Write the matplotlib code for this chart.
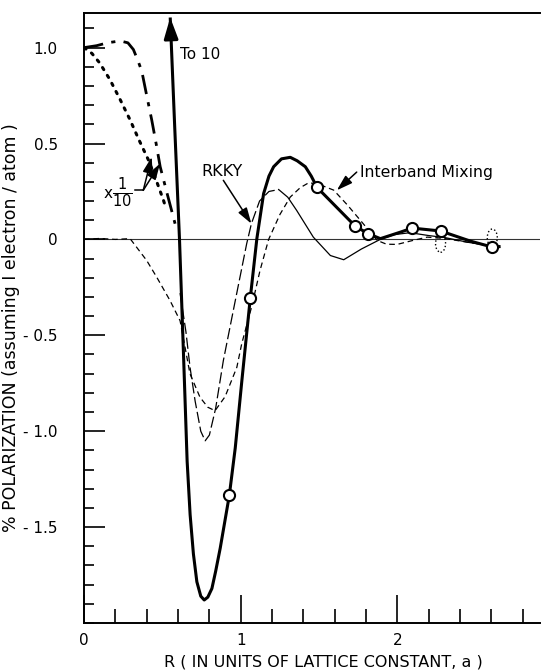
import numpy as np
import matplotlib.pyplot as plt
from matplotlib.patches import Ellipse
from matplotlib.ticker import MultipleLocator, FixedLocator

# thick solid curve (with "To 10" arrow at its upper end)
main_x = [0.550, 0.579, 0.609, 0.634, 0.658, 0.677, 0.698, 0.720, 0.745, 0.767, 0.790,
          0.816, 0.840, 0.869, 0.927, 0.965, 1.007, 1.061, 1.103, 1.146, 1.180, 1.210,
          1.260, 1.316, 1.360, 1.412, 1.450, 1.487, 1.732, 1.813, 1.891, 2.019, 2.094,
          2.275, 2.466, 2.605, 2.658]
main_y = [1.157, 0.580, 0.005, -0.580, -1.157, -1.435, -1.640, -1.785, -1.860, -1.880, -1.865,
          -1.820, -1.730, -1.610, -1.335, -1.087, -0.738, -0.305, 0.005, 0.239, 0.330, 0.379,
          0.420, 0.428, 0.410, 0.379, 0.330, 0.271, 0.068, 0.030, 0.004, 0.038, 0.059,
          0.044, -0.009, -0.040, -0.037]

# open circles on the thick curve
pts_x = [0.927, 1.061, 1.487, 1.732, 1.813, 2.094, 2.275, 2.605]
pts_y = [-1.335, -0.305, 0.271, 0.068, 0.030, 0.059, 0.044, -0.040]

# dotted open ellipses
dot_x = [2.275, 2.605]
dot_y = [-0.022, 0.009]

# Interband mixing (short dashes)
inter_x = [0.0, 0.10, 0.20, 0.294, 0.40, 0.464, 0.549, 0.613, 0.676, 0.740, 0.790, 0.836,
           0.900, 0.975, 1.006, 1.070, 1.123, 1.178, 1.250, 1.316, 1.380, 1.433, 1.490,
           1.593, 1.680, 1.764, 1.870, 1.930, 1.998, 2.100, 2.190, 2.300, 2.450, 2.620]
inter_y = [0.0, 0.005, 0.0, 0.004, -0.110, -0.197, -0.319, -0.424, -0.700, -0.823, -0.875, -0.893,
           -0.820, -0.667, -0.545, -0.350, -0.162, 0.0, 0.130, 0.221, 0.270, 0.295, 0.290,
           0.257, 0.180, 0.099, -0.005, -0.025, -0.026, -0.005, 0.012, 0.005, -0.015, -0.035]

# RKKY (thin, long dashes then solid)
rkky_x = [0.613, 0.650, 0.677, 0.709, 0.745, 0.773, 0.800, 0.840, 0.889, 0.960, 1.038,
          1.068, 1.120, 1.180, 1.242, 1.300, 1.357, 1.463, 1.572, 1.657, 1.770, 1.890,
          1.980, 2.080, 2.200, 2.300, 2.450, 2.600]
rkky_y = [-0.280, -0.480, -0.670, -0.843, -1.000, -1.050, -1.020, -0.880, -0.632, -0.340, -0.022,
          0.082, 0.200, 0.250, 0.260, 0.220, 0.151, 0.012, -0.084, -0.106, -0.050, 0.000,
          0.025, 0.035, 0.020, 0.010, -0.015, -0.035]

# x 1/10 curves near the origin
dotted_x = [0.0, 0.05, 0.10, 0.166, 0.23, 0.294, 0.35, 0.411, 0.46, 0.507, 0.520]
dotted_y = [1.0, 0.97, 0.92, 0.832, 0.73, 0.623, 0.52, 0.414, 0.31, 0.204, 0.170]
dashdot_x = [0.0, 0.08, 0.15, 0.23, 0.28, 0.315, 0.345, 0.369, 0.40, 0.432, 0.46, 0.486, 0.53, 0.581]
dashdot_y = [1.0, 1.01, 1.025, 1.035, 1.025, 0.99, 0.93, 0.876, 0.75, 0.623, 0.50, 0.379, 0.24, 0.082]

ytick_vals = [1.0, 0.5, 0.0, -0.5, -1.0, -1.5]
ytick_labels = ['1.0', '0.5', '0', '- 0.5', '- 1.0', '- 1.5']
xtick_vals = [0, 1, 2]
xtick_labels = ['0', '1', '2']

fig = plt.figure(figsize=(5.41, 6.71), dpi=100)
ax = fig.add_axes([0.1553, 0.0715, 0.843, 0.909])
ax.set_xlim(0, 2.91)
ax.set_ylim(-2.0, 1.18)

ax.axhline(0, color='#333333', lw=0.8, zorder=1)

# curves
ax.plot(main_x, main_y, color='k', lw=2.2, solid_capstyle='butt', zorder=4)
ax.annotate('', xy=(main_x[0], main_y[0]), xytext=(main_x[0] + 0.004, main_y[0] - 0.08),
            arrowprops=dict(arrowstyle='-|>,head_length=0.9,head_width=0.3', lw=2.2,
                            color='k', mutation_scale=14, shrinkA=0, shrinkB=0), zorder=5)
ax.plot(inter_x, inter_y, color='k', lw=0.9, dashes=(4.5, 3))

rx = np.array(rkky_x)
ry = np.array(rkky_y)
m1 = rx <= 1.245
m2 = rx >= 1.242
ax.plot(rx[m1], ry[m1], color='k', lw=0.9, dashes=(9, 3))
ax.plot(rx[m2], ry[m2], color='k', lw=0.9)

ax.plot(dotted_x, dotted_y, color='k', lw=2.2, linestyle=(0, (0.8, 2.2)), dash_capstyle='round')
ax.plot(dashdot_x, dashdot_y, color='k', lw=2.0, linestyle=(0, (7, 3, 1.5, 3)))

ax.plot(pts_x, pts_y, 'o', ms=8, mfc='white', mec='k', mew=1.5, zorder=6)
for ex, ey in zip(dot_x, dot_y):
    ax.add_patch(Ellipse((ex, ey), 0.064, 0.09, fill=False, ec='k', lw=1.0, ls=':', zorder=3))

# annotations
ax.text(0.613, 0.965, 'To 10', fontsize=11, va='center', ha='left')
ax.text(0.75, 0.355, 'RKKY', fontsize=11.5, va='center', ha='left')
ax.annotate('', xy=(1.068, 0.082), xytext=(0.889, 0.308),
            arrowprops=dict(arrowstyle='-|>,head_length=0.8,head_width=0.25', lw=1.1,
                            color='k', mutation_scale=12, shrinkA=0, shrinkB=0))
ax.text(1.76, 0.347, 'Interband Mixing', fontsize=11.3, va='center', ha='left')
ax.annotate('', xy=(1.613, 0.256), xytext=(1.740, 0.351),
            arrowprops=dict(arrowstyle='-|>,head_length=0.8,head_width=0.25', lw=1.1,
                            color='k', mutation_scale=12, shrinkA=0, shrinkB=0))
ax.text(0.153, 0.24, 'x', fontsize=11, va='center', ha='center')
ax.text(0.247, 0.245, r'$\frac{1}{10}$', fontsize=15, va='center', ha='center')
ax.plot([0.325, 0.378], [0.256, 0.256], color='k', lw=1.1)
for tx, ty in [(0.432, 0.430), (0.485, 0.395)]:
    ax.annotate('', xy=(tx, ty), xytext=(0.378, 0.256),
                arrowprops=dict(arrowstyle='-|>,head_length=0.8,head_width=0.25', lw=1.1,
                                color='k', mutation_scale=12, shrinkA=0, shrinkB=0))

# axes styling
ax.spines['right'].set_visible(False)
for s in ['left', 'bottom', 'top']:
    ax.spines[s].set_linewidth(1.4)

ax.xaxis.set_major_locator(FixedLocator(xtick_vals))
ax.set_xticklabels(xtick_labels)
ax.xaxis.set_minor_locator(MultipleLocator(0.2))
ax.yaxis.set_major_locator(FixedLocator(ytick_vals))
ax.set_yticklabels(ytick_labels)
ax.yaxis.set_minor_locator(MultipleLocator(0.1))
ax.tick_params(axis='x', which='major', direction='in', length=20, width=1.2, labelsize=11, pad=7,
               top=False)
ax.tick_params(axis='x', which='minor', direction='in', length=10, width=1.2, top=False)
ax.tick_params(axis='y', which='major', direction='in', length=15, width=1.2, labelsize=11, pad=19,
               right=False)
ax.tick_params(axis='y', which='minor', direction='in', length=7, width=1.2, right=False)

ax.set_xlabel('R ( IN UNITS OF LATTICE CONSTANT, a )', fontsize=11.5, va='baseline')
ax.xaxis.set_label_coords(0.524, -0.0705)
ax.set_ylabel('% POLARIZATION (assuming I electron / atom )', fontsize=12.5)
ax.yaxis.set_label_coords(-0.14, 0.484)

fig.savefig('out.png', dpi=100)
